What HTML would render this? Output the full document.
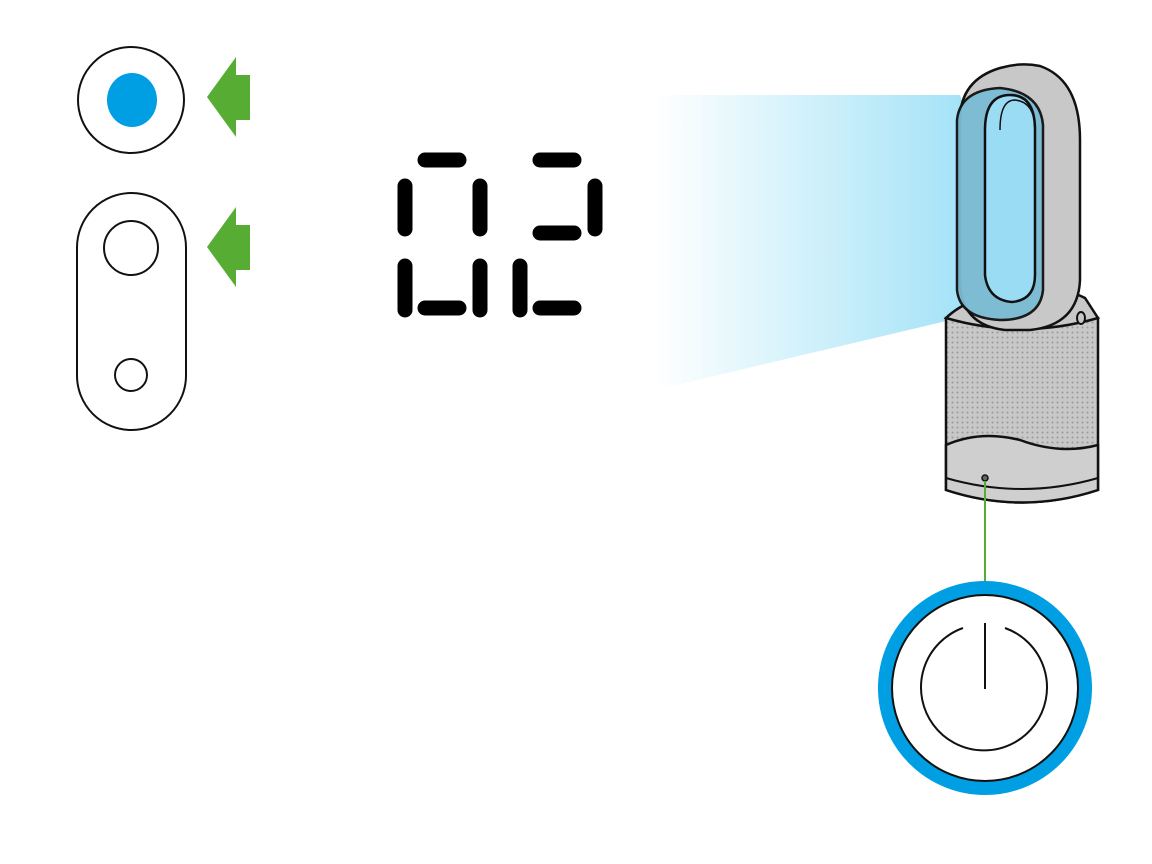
<!DOCTYPE html>
<html><head><style>html,body{margin:0;padding:0;background:#fff}svg{display:block}</style></head>
<body>
<svg width="1152" height="864" viewBox="0 0 1152 864" xmlns="http://www.w3.org/2000/svg">
<defs>
<linearGradient id="g" x1="0" y1="0" x2="1" y2="0">
<stop offset="0" stop-color="#fff"/>
<stop offset="1" stop-color="#8fdcf5"/>
</linearGradient>
<pattern id="dots" width="5" height="5" patternUnits="userSpaceOnUse">
<rect width="5" height="5" fill="#c8c8c8"/><circle cx="2.5" cy="2.5" r="1" fill="#999"/>
</pattern>
</defs>
<circle cx="131" cy="100" r="53" fill="#fff" stroke="#111" stroke-width="2"/>
<ellipse cx="132" cy="100" rx="25" ry="27" fill="#009fe3"/>
<rect x="77" y="193" width="109" height="237" rx="54.5" fill="#fff" stroke="#111" stroke-width="2"/>
<circle cx="131" cy="248" r="27" fill="#fff" stroke="#111" stroke-width="2"/>
<circle cx="131" cy="375" r="16" fill="#fff" stroke="#111" stroke-width="2"/>
<polygon points="207,97 236,57 236,75 250,75 250,120 236,120 236,137" fill="#57ad34"/>
<polygon points="207,247 236,207 236,225 250,225 250,270 236,270 236,287" fill="#57ad34"/>
<g stroke="#000" stroke-width="15" stroke-linecap="round" fill="none">
<line x1="425" y1="160" x2="459" y2="160"/>
<line x1="405" y1="186" x2="405" y2="229"/>
<line x1="480" y1="186" x2="480" y2="229"/>
<line x1="405" y1="266" x2="405" y2="310"/>
<line x1="480" y1="266" x2="480" y2="310"/>
<line x1="425" y1="308" x2="459" y2="308"/>
<line x1="540" y1="160" x2="574" y2="160"/>
<line x1="595" y1="186" x2="595" y2="229"/>
<line x1="540" y1="233" x2="574" y2="233"/>
<line x1="520" y1="266" x2="520" y2="310"/>
<line x1="540" y1="308" x2="574" y2="308"/>
</g>
<polygon points="655,95 960,95 1035,300 655,390" fill="url(#g)"/>
<path d="M946,318 L946,490 Q1022,515 1098,490 L1098,318 Z" fill="url(#dots)" stroke="#111" stroke-width="2.5"/>
<path d="M946,445 Q980,430 1020,440 Q1060,455 1098,445 L1098,490 Q1022,515 946,490 Z" fill="#cfcfcf" stroke="#111" stroke-width="2.5"/>
<path d="M946,478 Q1022,500 1098,478" fill="none" stroke="#111" stroke-width="2"/>
<circle cx="985" cy="478" r="3" fill="#666" stroke="#111" stroke-width="1.5"/>
<path d="M946,318 Q1022,340 1098,318 L1085,298 Q1060,285 1020,290 Q970,295 946,318Z" fill="#c8c8c8" stroke="#111" stroke-width="2.5"/>
<ellipse cx="1081" cy="318" rx="4" ry="6" fill="#c8c8c8" stroke="#111" stroke-width="2"/>
<path d="M1000,68 Q1020,62 1040,66 Q1080,80 1080,140 L1080,280 Q1078,325 1030,330 L1005,330 Q960,325 960,280 L960,120 Q960,80 1000,68Z" fill="#c8c8c8" stroke="#111" stroke-width="2.5"/>
<path d="M957,120 Q960,90 1000,88 Q1040,92 1043,125 L1043,290 Q1040,320 1000,320 Q960,318 957,290 Z" fill="#7bbcd4" stroke="#111" stroke-width="2.5" opacity="0.95"/>
<path d="M985,130 Q985,95 1010,95 Q1035,95 1035,130 L1035,275 Q1035,300 1012,302 Q988,300 985,275 Z" fill="#9bdcf5" stroke="#111" stroke-width="2.5"/>
<path d="M1000,130 Q1000,100 1015,100 Q1035,102 1035,130" fill="none" stroke="#111" stroke-width="1.5"/>
<line x1="985" y1="481" x2="985" y2="583" stroke="#57ad34" stroke-width="2"/>
<circle cx="985" cy="688" r="100" fill="#fff" stroke="#009fe3" stroke-width="14"/>
<circle cx="985" cy="688" r="93" fill="none" stroke="#111" stroke-width="2"/>
<path d="M963,628 A63,63 0 1 0 1005,628" fill="none" stroke="#111" stroke-width="2"/>
<line x1="985" y1="623" x2="985" y2="689" stroke="#111" stroke-width="2"/>
</svg>
</body></html>
